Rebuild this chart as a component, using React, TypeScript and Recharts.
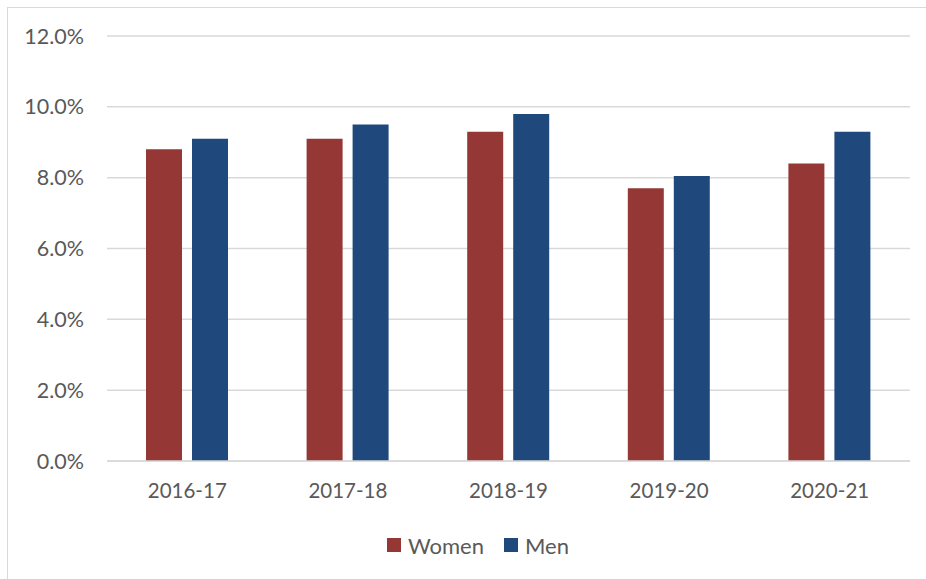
import React from 'react';
import { BarChart, Bar, XAxis, YAxis, CartesianGrid, Legend } from 'recharts';

const years = ['2016-17', '2017-18', '2018-19', '2019-20', '2020-21'];
const women = [8.8, 9.1, 9.3, 7.7, 8.4];
const men = [9.1, 9.5, 9.8, 8.05, 9.3];
const yTicks = [0, 2, 4, 6, 8, 10, 12];

const series = [
  { key: 'women', name: 'Women', color: '#953735' },
  { key: 'men', name: 'Men', color: '#1F497D' },
];

const data = years.map((year, i) => ({ year, women: women[i], men: men[i] }));

const FONT = 'Lato, "Open Sans", sans-serif';
const TEXT = '#595959';

const LegendBox = () => (
  <div style={{ display: 'flex', justifyContent: 'center', alignItems: 'center', height: 30, paddingLeft: 46, fontFamily: FONT, fontSize: 22, color: TEXT }}>
    {series.map((s, i) => (
      <div key={s.key} style={{ display: 'flex', alignItems: 'center', marginRight: i < series.length - 1 ? 20 : 0 }}>
        <div style={{ width: 14, height: 14, background: s.color, marginRight: 7 }} />
        <span>{s.name}</span>
      </div>
    ))}
  </div>
);

export default function App() {
  return (
    <div style={{ position: 'absolute', left: 0, top: 0, width: 926, height: 579, background: '#fff' }}>
      <div style={{ position: 'absolute', left: 7, top: 7, right: 0, bottom: 0, borderLeft: '1px solid #d9d9d9', borderTop: '1px solid #d9d9d9' }} />
      <BarChart
        width={926}
        height={579}
        data={data}
        margin={{ top: 36, right: 16, left: 0, bottom: 19 }}
        barSize={36}
        barGap={10}
      >
        <CartesianGrid vertical={false} stroke="#d9d9d9" strokeWidth={1.5} />
        <XAxis
          dataKey="year"
          height={69}
          tickLine={false}
          tickSize={0}
          tickMargin={22}
          axisLine={{ stroke: '#d9d9d9', strokeWidth: 1.5 }}
          tick={{ fill: TEXT, fontSize: 20.5, fontFamily: FONT }}
        />
        <YAxis
          width={107}
          domain={[0, 12]}
          ticks={yTicks}
          tickFormatter={(v: number) => `${v.toFixed(1)}%`}
          axisLine={false}
          tickLine={false}
          tickSize={0}
          tickMargin={23}
          tick={{ fill: TEXT, fontSize: 21.5, fontFamily: FONT }}
        />
        <Legend verticalAlign="bottom" height={30} content={() => <LegendBox />} />
        {series.map((s) => (
          <Bar key={s.key} dataKey={s.key} name={s.name} fill={s.color} isAnimationActive={false} />
        ))}
      </BarChart>
    </div>
  );
}
